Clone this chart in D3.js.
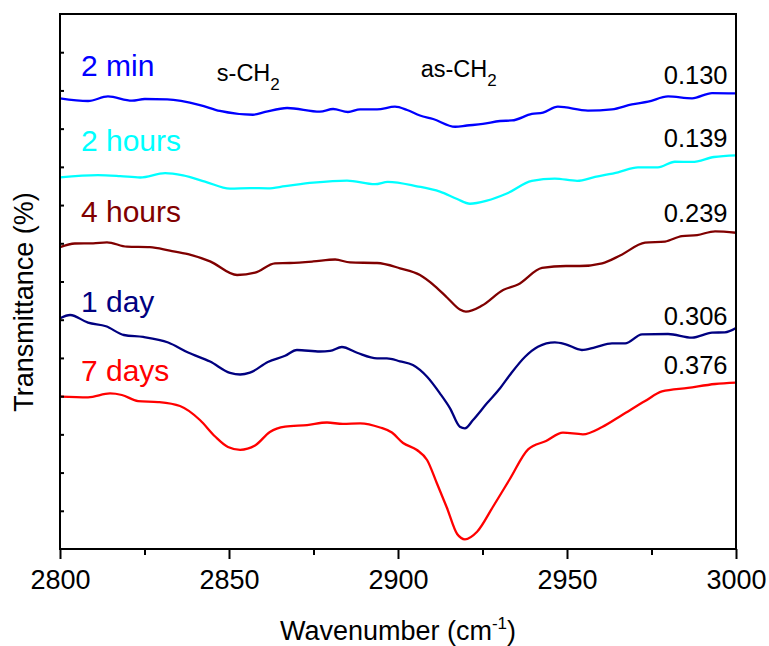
<!DOCTYPE html>
<html>
<head>
<meta charset="utf-8">
<script src="https://cdn.jsdelivr.net/npm/d3@7"></script>
<style>
  html, body { margin: 0; padding: 0; background: #fff; }
  svg { display: block; font-family: "Liberation Sans", Arial, sans-serif; }
</style>
</head>
<body>
<svg id="chart" width="769" height="646"></svg>
<script>
// FTIR spectra in the C-H stretching region, offset vertically (a.u.)
// Each series: [wavenumber (cm-1), offset transmittance]
const spec2min = [
  [2800, 58.97], [2808.3, 58.62], [2814.2, 59.21], [2821.3, 58.66], [2825.1, 58.88],
  [2831.7, 58.84], [2841.4, 58.09], [2847.3, 57.31], [2857.1, 56.82], [2860.7, 57.18],
  [2867.2, 57.70], [2876.9, 57.22], [2880.8, 57.57], [2885.2, 57.18], [2888.8, 57.53],
  [2893.8, 57.53], [2899.1, 57.87], [2902.7, 57.44], [2906.5, 56.72], [2910.4, 56.26],
  [2916.9, 55.25], [2920.4, 55.41], [2925.1, 55.61], [2930.2, 56.00], [2933.7, 56.07],
  [2939.6, 56.92], [2942.9, 57.11], [2947.3, 57.87], [2956.2, 57.37], [2963.3, 57.53],
  [2969.2, 58.18], [2974.0, 58.53], [2979.9, 59.21], [2987.0, 58.97], [2992.9, 59.66],
  [3000, 59.62]
];
const spec2h = [
  [2800, 48.63], [2811.2, 48.93], [2817.8, 48.80], [2823.7, 48.61], [2831.1, 49.17],
  [2836.4, 48.87], [2842.9, 48.08], [2850.3, 47.14], [2856.2, 47.23], [2861.5, 47.19],
  [2866.6, 47.47], [2874.9, 47.93], [2884.9, 48.21], [2893.2, 47.73], [2897.0, 48.04],
  [2905.6, 47.46], [2912.4, 46.75], [2917.5, 45.79], [2921.3, 45.17], [2926.3, 45.57],
  [2932.2, 46.51], [2939.6, 48.15], [2946.4, 48.46], [2953.0, 48.17], [2958.3, 48.69],
  [2965.1, 49.29], [2971.0, 49.94], [2976.9, 49.94], [2981.9, 50.67], [2987.0, 50.64],
  [2993.5, 51.29], [3000, 51.51]
];
const spec4h = [
  [2800, 39.49], [2804.4, 39.97], [2809.8, 40.00], [2813.9, 40.13], [2819.8, 39.55],
  [2826.6, 39.49], [2832.5, 39.03], [2837.9, 38.57], [2844.4, 37.64], [2852.4, 35.85],
  [2857.7, 36.15], [2863.6, 37.38], [2868.0, 37.42], [2874.9, 37.62], [2881.4, 37.88],
  [2885.8, 37.49], [2893.8, 37.42], [2900.6, 36.73], [2906.5, 35.85], [2910.9, 34.41],
  [2914.5, 32.91], [2918.3, 31.34], [2920.1, 31.05], [2924.9, 31.86], [2931.1, 33.89],
  [2935.5, 34.61], [2942.6, 36.77], [2949.7, 37.03], [2953.8, 37.03], [2960.4, 37.38],
  [2965.7, 38.40], [2973.1, 40.08], [2979.0, 40.23], [2984.0, 40.95], [2988.5, 41.08],
  [2993.8, 41.57], [3000, 41.38]
];
const spec1d = [
  [2800, 30.18], [2803.0, 30.62], [2808.3, 29.61], [2813.6, 29.14], [2818.9, 28.00],
  [2824.6, 27.74], [2832.0, 27.02], [2837.9, 25.71], [2844.4, 24.53], [2850.3, 23.05],
  [2853.3, 22.83], [2856.2, 23.07], [2861.5, 24.47], [2866.6, 25.28], [2870.1, 26.04],
  [2876.9, 25.84], [2879.9, 25.91], [2883.4, 26.43], [2887.9, 25.68], [2893.8, 24.95],
  [2896.7, 24.95], [2900.6, 24.56], [2904.4, 24.07], [2908.6, 22.54], [2912.4, 20.37],
  [2915.4, 18.41], [2918.3, 16.00], [2919.8, 15.79], [2922.2, 16.88], [2926.3, 19.06],
  [2930.2, 21.03], [2933.1, 22.77], [2937.6, 25.16], [2941.4, 26.47], [2946.4, 27.04],
  [2949.4, 26.82], [2954.4, 26.04], [2958.3, 26.39], [2963.3, 26.91], [2967.2, 26.91],
  [2972.2, 28.09], [2979.9, 28.13], [2987.0, 27.65], [2992.9, 28.30], [2996.7, 28.35],
  [3000, 28.92]
];
const spec7d = [
  [2800, 19.95], [2808.3, 19.85], [2814.8, 20.35], [2818.3, 20.15], [2823.1, 19.36],
  [2829.0, 19.23], [2835.5, 18.71], [2841.4, 16.88], [2845.9, 14.72], [2849.7, 13.35],
  [2853.3, 12.98], [2857.7, 13.54], [2862.1, 15.31], [2866.6, 16.00], [2873.1, 16.22],
  [2879.0, 16.55], [2883.7, 16.36], [2888.8, 16.45], [2894.7, 15.90], [2898.2, 15.24],
  [2901.5, 13.87], [2905.6, 12.95], [2908.6, 11.64], [2911.5, 8.60], [2914.5, 5.36],
  [2917.5, 1.96], [2919.8, 1.27], [2923.4, 2.26], [2928.1, 5.53], [2933.1, 9.16],
  [2938.5, 13.04], [2943.8, 14.13], [2948.8, 15.22], [2954.7, 15.01], [2960.4, 15.96],
  [2966.3, 17.53], [2973.1, 19.36], [2978.1, 20.61], [2985.8, 21.07], [2993.8, 21.59],
  [3000, 21.78]
];

const seriesNames = ["2 min", "2 hours", "4 hours", "1 day", "7 days"];
const seriesColors = ["#0000ff", "#00ffff", "#800000", "#000080", "#ff0000"];
const ratioLabels = ["0.130", "0.139", "0.239", "0.306", "0.376"];
const seriesData = [spec2min, spec2h, spec4h, spec1d, spec7d];

const xMajorTicks = [2800, 2850, 2900, 2950, 3000];
const xMinorTicks = [2825, 2875, 2925, 2975];
const yMinorTicks = [5, 10, 15, 20, 25, 30, 35, 40, 45, 50, 55, 60, 65];

// Label anchors (y in plot units): series name on the left, ratio on the right
const nameLabelY = [61.89, 52.11, 42.82, 31.07, 22.02];
const ratioLabelY = [60.84, 52.56, 42.75, 29.31, 22.90];
const bandLabels = [
  { main: "s-CH", sub: "2", wn: 2846.4, y: 61.27 },
  { main: "as-CH", sub: "2", wn: 2906.7, y: 61.72 }
];

const svg = d3.select("#chart");
const plot = { left: 60, right: 736, top: 14, bottom: 549 };

const x = d3.scaleLinear().domain([2800, 3000]).range([plot.left, plot.right]);
const y = d3.scaleLinear().domain([0, 70]).range([plot.bottom, plot.top]);

// Spectra
const line = d3.line()
  .x(d => x(d[0]))
  .y(d => y(d[1]))
  .curve(d3.curveMonotoneX);

svg.append("g")
  .selectAll("path")
  .data(seriesData)
  .join("path")
  .attr("fill", "none")
  .attr("stroke", (d, i) => seriesColors[i])
  .attr("stroke-width", 2.3)
  .attr("stroke-linejoin", "round")
  .attr("d", line);

// Frame
svg.append("rect")
  .attr("x", plot.left).attr("y", plot.top)
  .attr("width", plot.right - plot.left)
  .attr("height", plot.bottom - plot.top)
  .attr("fill", "none")
  .attr("stroke", "#000")
  .attr("stroke-width", 2);

// Bottom axis: labelled major ticks and unlabelled minor ticks
const xMajor = svg.append("g")
  .attr("transform", `translate(0,${plot.bottom})`)
  .call(d3.axisBottom(x).tickValues(xMajorTicks).tickSize(10).tickPadding(11).tickFormat(d3.format("d")));
xMajor.select(".domain").remove();
xMajor.selectAll("line").attr("stroke", "#000").attr("stroke-width", 2);
xMajor.selectAll("text")
  .attr("font-size", 27)
  .attr("fill", "#000")
  .attr("font-family", "Liberation Sans, Arial, sans-serif");

const xMinor = svg.append("g")
  .attr("transform", `translate(0,${plot.bottom})`)
  .call(d3.axisBottom(x).tickValues(xMinorTicks).tickSize(6).tickFormat(""));
xMinor.select(".domain").remove();
xMinor.selectAll("line").attr("stroke", "#000").attr("stroke-width", 2);

// Left axis: short inward ticks without labels
const yAxis = svg.append("g")
  .attr("transform", `translate(${plot.left},0)`)
  .call(d3.axisRight(y).tickValues(yMinorTicks).tickSize(4).tickFormat(""));
yAxis.select(".domain").remove();
yAxis.selectAll("line").attr("stroke", "#000").attr("stroke-width", 2);

// Axis titles
const xTitle = svg.append("text")
  .attr("x", (plot.left + plot.right) / 2)
  .attr("y", 640)
  .attr("text-anchor", "middle")
  .attr("font-size", 27)
  .attr("fill", "#000");
xTitle.append("tspan").text("Wavenumber (cm");
xTitle.append("tspan").attr("font-size", 17).attr("dy", -11).text("-1");
xTitle.append("tspan").attr("dy", 11).text(")");

svg.append("text")
  .attr("transform", "translate(33,302) rotate(-90)")
  .attr("text-anchor", "middle")
  .attr("font-size", 27)
  .attr("fill", "#000")
  .text("Transmittance (%)");

// Series names
svg.append("g")
  .selectAll("text")
  .data(seriesNames)
  .join("text")
  .attr("x", x(2806.2))
  .attr("y", (d, i) => y(nameLabelY[i]))
  .attr("font-size", 30)
  .attr("fill", (d, i) => seriesColors[i])
  .text(d => d);

// Ratio values at the right edge
svg.append("g")
  .selectAll("text")
  .data(ratioLabels)
  .join("text")
  .attr("x", x(2997.5))
  .attr("y", (d, i) => y(ratioLabelY[i]))
  .attr("text-anchor", "end")
  .attr("font-size", 25.5)
  .attr("fill", "#000")
  .text(d => d);

// Band assignments
bandLabels.forEach(b => {
  const t = svg.append("text")
    .attr("x", x(b.wn))
    .attr("y", y(b.y))
    .attr("font-size", 23.5)
    .attr("fill", "#000");
  t.append("tspan").text(b.main);
  t.append("tspan").attr("font-size", 17).attr("dy", 9).text(b.sub);
});
</script>
</body>
</html>
